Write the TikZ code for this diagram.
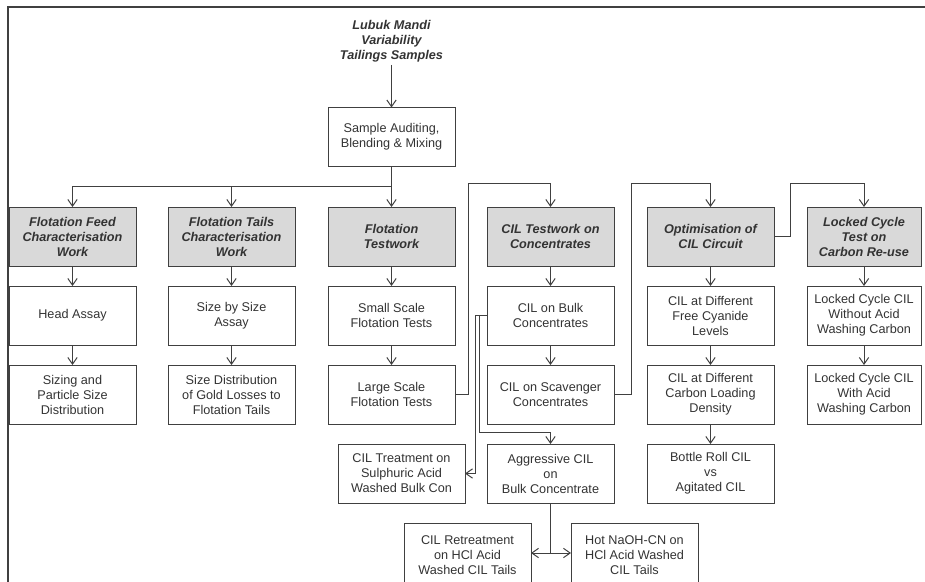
\documentclass[tikz,border=0pt]{standalone}
\usepackage{fontspec}
\setmainfont{Liberation Sans}
\usetikzlibrary{
  arrows.meta,
  calc,
  positioning
}
\definecolor{linegray}{HTML}{404040}
\definecolor{boxgray}{HTML}{D9D9D9}

\begin{document}
\begin{tikzpicture}[x=0.75pt,y=-0.75pt, node distance=15pt,
  box/.style={rectangle, draw=linegray, line width=0.75pt, minimum width=95.25pt, minimum height=44.25pt, inner sep=0pt, outer sep=0pt, align=center, text=black!80, font=\fontsize{9.5}{11.25}\selectfont},
  head/.style={box, fill=boxgray, font=\fontsize{9.5}{11.25}\selectfont\bfseries\itshape},
  narrow/.style={minimum width=85.5pt},
  tall/.style={minimum height=48pt},
  link/.style={draw=linegray, line width=0.75pt},
  >={Straight Barb[length=5pt,width=7pt]}]
\clip (0,0) rectangle (925,582);
% outer frame
\draw[draw=linegray, line width=1.1pt] (8,600) -- (8,7) -- (940,7);

\node[align=center, text=black!80, font=\fontsize{9.5}{11.25}\selectfont\bfseries\itshape, inner sep=2pt] (src) at (391.5,41) {Lubuk Mandi\\Variability\\Tailings Samples};
\node[box] (prep) at (391.5,137) {Sample Auditing,\\Blending \& Mixing};

% test programmes
\node[head] (feed) at (72.5,236.5) {Flotation Feed\\Characterisation\\Work};
\node[head] (tails) at (231.5,236.5) {Flotation Tails\\Characterisation\\Work};
\node[head] (flot) at (391.5,236.5) {Flotation\\Testwork};
\node[head] (cilc) at (550.5,236.5) {CIL Testwork on\\Concentrates};
\node[head] (optim) at (710.5,236.5) {Optimisation of\\CIL Circuit};
\node[head,narrow] (lock) at (864,236.5) {Locked Cycle\\Test on\\Carbon Re-use};

\node[box,below=of feed] (hassay) {Head Assay};
\node[box,below=of hassay] (sizing) {Sizing and\\Particle Size\\Distribution};
\node[box,below=of tails] (sbs) {Size by Size\\Assay};
\node[box,below=of sbs] (sdist) {Size Distribution\\of Gold Losses to\\Flotation Tails};
\node[box,below=of flot] (small) {Small Scale\\Flotation Tests};
\node[box,below=of small] (large) {Large Scale\\Flotation Tests};
\node[box,below=of cilc] (bulk) {CIL on Bulk\\Concentrates};
\node[box,below=of bulk] (scav) {CIL on Scavenger\\Concentrates};
\node[box,below=of scav] (aggr) {Aggressive CIL\\on\\Bulk Concentrate};
\node[box,left=16.5pt of aggr] (sulph) {CIL Treatment on\\Sulphuric Acid\\Washed Bulk Con};
\node[box,below=of optim] (freecn) {CIL at Different\\Free Cyanide\\Levels};
\node[box,below=of freecn] (loading) {CIL at Different\\Carbon Loading\\Density};
\node[box,below=of loading] (bottle) {Bottle Roll CIL\\vs\\Agitated CIL};
\node[box,narrow,below=of lock] (noacid) {Locked Cycle CIL\\Without Acid\\Washing Carbon};
\node[box,narrow,below=of noacid] (acid) {Locked Cycle CIL\\With Acid\\Washing Carbon};

\coordinate (split) at ($(aggr.south)+(0,50)$);
\node[box,tall,anchor=north east] (retr) at ($(aggr.south)+(-19.5,20)$) {CIL Retreatment\\on HCl Acid\\Washed CIL Tails};
\node[box,tall,anchor=north west] (naoh) at ($(aggr.south)+(20.5,20)$) {Hot NaOH-CN on\\HCl Acid Washed\\CIL Tails};

% feed and split
\draw[link,->] (src) -- (prep);
\coordinate (fan) at ($(prep.south)+(0,20)$);
\draw[link] (prep) -- (fan);
\draw[link,->] (fan) -| (feed);
\draw[link,->] (fan) -| (tails);
\draw[link,->] (fan) -- (flot);

% down the columns
\foreach \a/\b in {feed/hassay, hassay/sizing, tails/sbs, sbs/sdist, flot/small, small/large,
  cilc/bulk, bulk/scav, optim/freecn, freecn/loading, loading/bottle, lock/noacid, noacid/acid}
  \draw[link,->] (\a) -- (\b);

% cross links
\draw[link,->] (large.east) -- ++(13,0) |- ($(cilc.north)+(0,-24)$) -- (cilc);
\draw[link,->] (scav.east) -- ++(17,0) |- ($(optim.north)+(0,-24)$) -- (optim);
\draw[link,->] (optim.east) -- ++(16,0) |- ($(lock.north)+(0,-24)$) -- (lock);
\draw[link,->] (bulk.west) -- ++(-12,0) |- (sulph.east);
\draw[link,->] ($(bulk.west)+(-8,0)$) |- ($(aggr.north)+(0,-12)$) -- (aggr);

\draw[link] (aggr) -- (split);
\draw[link,->] (split) -- (split -| retr.east);
\draw[link,->] (split) -- (split -| naoh.west);
\end{tikzpicture}
\end{document}
